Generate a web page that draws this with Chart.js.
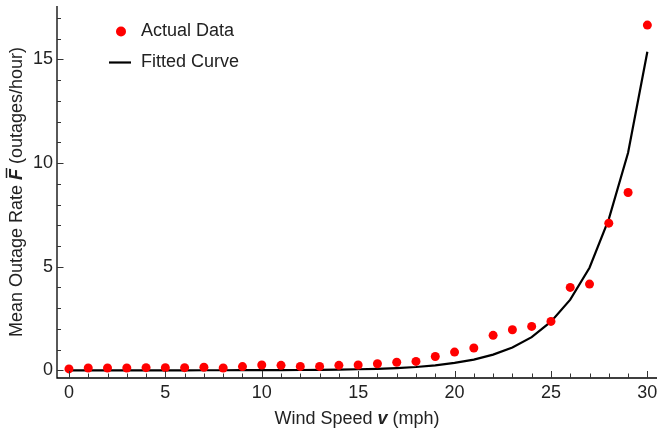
<!DOCTYPE html>
<html>
<head>
<meta charset="utf-8">
<script src="https://cdn.jsdelivr.net/npm/chart.js@4.4.0/dist/chart.umd.min.js"></script>
<style>
  html, body { margin: 0; padding: 0; background: #fff; }
  #wrap { width: 657px; height: 434px; position: relative; }
</style>
</head>
<body>
<div id="wrap"><canvas id="chart"></canvas></div>
<script>
// wind speed (mph)
const windSpeed = [0, 1, 2, 3, 4, 5, 6, 7, 8, 9, 10, 11, 12, 13, 14, 15, 16, 17, 18, 19, 20, 21, 22, 23, 24, 25, 26, 27, 28, 29, 30];
// observed mean outage rate
const actualRate = [0.07, 0.11, 0.11, 0.11, 0.13, 0.13, 0.13, 0.15, 0.11, 0.18, 0.26, 0.24, 0.19, 0.19, 0.24, 0.26,
  0.32, 0.39, 0.43, 0.67, 0.88, 1.08, 1.69, 1.96, 2.12, 2.36, 4.0, 4.16, 7.10, 8.58, 16.66];
// fitted curve
const fittedRate = [0, 0, 0, 0.001, 0.001, 0.001, 0.002, 0.003, 0.004, 0.006, 0.008, 0.012, 0.017, 0.025, 0.036, 0.052,
  0.075, 0.11, 0.16, 0.24, 0.36, 0.52, 0.76, 1.1, 1.6, 2.35, 3.41, 4.95, 7.3, 10.5, 15.37];
const xTicks = [0, 5, 10, 15, 20, 25, 30];
const yTicks = [0, 5, 10, 15];

const FONT = '"Liberation Sans", Arial, sans-serif';
const TEXT = '#222';

// Mathematica-style frame: inward ticks, axis lines, legend, titles
const framePlugin = {
  id: 'frame',
  afterDraw(chart) {
    const ctx = chart.ctx;
    const a = chart.chartArea;
    const xs = chart.scales.x, ys = chart.scales.y;
    ctx.save();
    ctx.strokeStyle = '#000';
    ctx.lineWidth = 1.3;
    ctx.beginPath();
    ctx.moveTo(a.left, a.top); ctx.lineTo(a.left, a.bottom); ctx.lineTo(a.right, a.bottom);
    ctx.stroke();

    ctx.lineWidth = 1;
    ctx.strokeStyle = '#333';
    ctx.beginPath();
    for (let v = Math.ceil(ys.min); v <= ys.max; v++) {
      const y = Math.round(ys.getPixelForValue(v)) + 0.5;
      const len = v % 5 === 0 ? 6.5 : 4;
      ctx.moveTo(a.left, y); ctx.lineTo(a.left + len, y);
    }
    for (let v = Math.ceil(xs.min); v <= xs.max; v++) {
      const x = Math.round(xs.getPixelForValue(v)) + 0.5;
      const len = v % 5 === 0 ? 7 : 4.5;
      ctx.moveTo(x, a.bottom); ctx.lineTo(x, a.bottom - len);
    }
    ctx.stroke();

    // legend
    const ds = chart.data.datasets;
    ctx.font = '18px ' + FONT;
    ctx.textBaseline = 'middle';
    ctx.textAlign = 'left';
    ctx.fillStyle = ds[0].backgroundColor;
    ctx.beginPath(); ctx.arc(121, 31.5, 5, 0, Math.PI * 2); ctx.fill();
    ctx.fillStyle = TEXT;
    ctx.fillText(ds[0].label, 141, 31.5);
    ctx.strokeStyle = ds[1].borderColor;
    ctx.lineWidth = 2.2;
    ctx.beginPath(); ctx.moveTo(109, 62.5); ctx.lineTo(131, 62.5); ctx.stroke();
    ctx.fillText(ds[1].label, 141, 62.5);

    // axis titles with bold italic symbols
    const drawParts = (parts, cx, cy, rot) => {
      ctx.save();
      ctx.translate(cx, cy);
      ctx.rotate(rot);
      ctx.textBaseline = 'alphabetic';
      ctx.textAlign = 'left';
      let w = 0;
      parts.forEach(p => { ctx.font = p.font; p.w = ctx.measureText(p.t).width; w += p.w; });
      let x = -w / 2;
      parts.forEach(p => {
        ctx.font = p.font;
        ctx.fillStyle = TEXT;
        ctx.fillText(p.t, x, 0);
        if (p.over) {
          ctx.strokeStyle = TEXT;
          ctx.lineWidth = 1.5;
          ctx.beginPath(); ctx.moveTo(x + 2, -15.5); ctx.lineTo(x + p.w + 1, -15.5); ctx.stroke();
        }
        x += p.w;
      });
      ctx.restore();
    };
    const norm = '18px ' + FONT, bi = 'italic bold 18px ' + FONT;
    drawParts([{ t: 'Wind Speed ', font: norm }, { t: 'v', font: bi }, { t: ' (mph)', font: norm }],
      (a.left + a.right) / 2, 424, 0);
    drawParts([{ t: 'Mean Outage Rate ', font: norm }, { t: 'F', font: bi, over: true }, { t: ' (outages/hour)', font: norm }],
      22, (a.top + a.bottom) / 2, -Math.PI / 2);
    ctx.restore();
  }
};

// keep the plot frame fixed: no extra padding for edge labels
const noPad = s => { s.paddingTop = 0; s.paddingBottom = 0; s.paddingLeft = 0; s.paddingRight = 0; };

new Chart(document.getElementById('chart'), {
  type: 'scatter',
  data: {
    datasets: [{
      label: 'Actual Data',
      data: windSpeed.map((v, i) => ({ x: v, y: actualRate[i] })),
      backgroundColor: '#ff0000',
      borderWidth: 0,
      pointRadius: 4.5,
      order: 1
    }, {
      type: 'line',
      label: 'Fitted Curve',
      data: windSpeed.map((v, i) => ({ x: v, y: fittedRate[i] })),
      borderColor: '#000',
      borderWidth: 2.2,
      pointRadius: 0,
      fill: false,
      tension: 0,
      order: 2
    }]
  },
  options: {
    responsive: true,
    maintainAspectRatio: false,
    animation: false,
    layout: { autoPadding: false, padding: { top: 6, right: 0, left: 0, bottom: 0 } },
    plugins: { legend: { display: false }, tooltip: { enabled: false } },
    scales: {
      x: {
        type: 'linear',
        min: -0.62, max: 30.5,
        afterBuildTicks: s => { s.ticks = xTicks.map(v => ({ value: v })); },
        afterFit: s => { s.height = 56; noPad(s); },
        grid: { display: false, drawTicks: false },
        border: { display: false },
        ticks: { autoSkip: false, maxRotation: 0, padding: 4, color: TEXT, font: { family: FONT, size: 18 } }
      },
      y: {
        type: 'linear',
        min: -0.37, max: 17.58,
        afterBuildTicks: s => { s.ticks = yTicks.map(v => ({ value: v })); },
        afterFit: s => { s.width = 57; noPad(s); },
        grid: { display: false, drawTicks: false },
        border: { display: false },
        ticks: { padding: 4, color: TEXT, font: { family: FONT, size: 18 } }
      }
    }
  },
  plugins: [framePlugin]
});
</script>
</body>
</html>
